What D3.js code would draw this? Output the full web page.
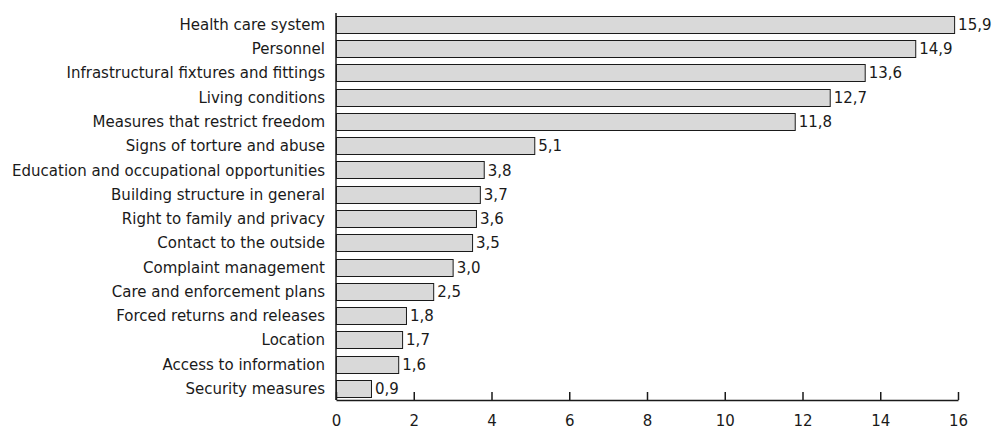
<!DOCTYPE html>
<html>
<head>
<meta charset="utf-8">
<script src="https://cdn.jsdelivr.net/npm/d3@7"></script>
<style>
  html, body { margin: 0; padding: 0; background: #fff; }
  text { font-family: "DejaVu Sans", sans-serif; fill: #1a1a1a; }
</style>
</head>
<body>
<svg id="chart" width="993" height="431"></svg>
<script>
// Topics raised in the reports, share in percent
const categories = [
  "Health care system",
  "Personnel",
  "Infrastructural fixtures and fittings",
  "Living conditions",
  "Measures that restrict freedom",
  "Signs of torture and abuse",
  "Education and occupational opportunities",
  "Building structure in general",
  "Right to family and privacy",
  "Contact to the outside",
  "Complaint management",
  "Care and enforcement plans",
  "Forced returns and releases",
  "Location",
  "Access to information",
  "Security measures"
];
const values = [15.9, 14.9, 13.6, 12.7, 11.8, 5.1, 3.8, 3.7, 3.6, 3.5, 3.0, 2.5, 1.8, 1.7, 1.6, 0.9];
const xTicks = [0, 2, 4, 6, 8, 10, 12, 14, 16];

const FONT = 15;
const svg = d3.select("#chart");
const margin = { top: 13, right: 35, bottom: 31, left: 336 };
const height = 431 - margin.top - margin.bottom;

const g = svg.append("g").attr("transform", `translate(${margin.left},${margin.top})`);

const x = d3.scaleLinear().domain([0, 16]).range([0, 622]);
const y = d3.scaleBand().domain(categories).range([0, height]).paddingInner(0.29).paddingOuter(0.12);

const fmt = v => d3.format(".1f")(v).replace(".", ",");

// bars
g.selectAll("rect.bar")
  .data(categories)
  .join("rect")
  .attr("class", "bar")
  .attr("x", 0.5)
  .attr("y", d => Math.round(y(d)) + 0.5)
  .attr("width", (d, i) => x(values[i]))
  .attr("height", Math.round(y.bandwidth()))
  .attr("fill", "#d9d9d9")
  .attr("stroke", "#1a1a1a")
  .attr("stroke-width", 1);

// value labels
g.selectAll("text.val")
  .data(categories)
  .join("text")
  .attr("class", "val")
  .attr("x", (d, i) => x(values[i]) + 4)
  .attr("y", d => y(d) + y.bandwidth() / 2)
  .attr("dy", "0.36em")
  .attr("font-size", FONT)
  .text((d, i) => fmt(values[i]));

// category labels
g.selectAll("text.cat")
  .data(categories)
  .join("text")
  .attr("class", "cat")
  .attr("x", -11)
  .attr("y", d => y(d) + y.bandwidth() / 2)
  .attr("dy", "0.36em")
  .attr("text-anchor", "end")
  .attr("font-size", FONT)
  .text(d => d);

// x axis: ticks point upward into the plot
const xAxis = d3.axisBottom(x).tickValues(xTicks).tickSizeInner(-8).tickSizeOuter(0).tickPadding(15).tickFormat(d3.format("d"));
const ax = g.append("g").attr("transform", `translate(0,${height})`).call(xAxis);
ax.select(".domain").attr("stroke", "#1a1a1a").attr("stroke-width", 1.5);
ax.selectAll(".tick line").attr("stroke", "#1a1a1a").attr("stroke-width", 1.5);
ax.selectAll(".tick text").attr("font-size", FONT).attr("font-family", "'DejaVu Sans', sans-serif").attr("fill", "#1a1a1a");

// y axis line
g.append("line")
  .attr("x1", 0).attr("x2", 0)
  .attr("y1", 0).attr("y2", height)
  .attr("stroke", "#1a1a1a").attr("stroke-width", 1.5);
</script>
</body>
</html>
